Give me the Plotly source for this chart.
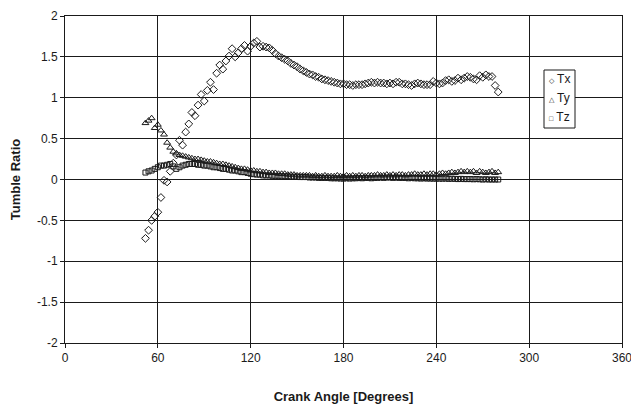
import plotly.graph_objects as go

crank_angle = [52, 54, 56, 58, 60, 62, 64, 66, 68, 70, 72, 74, 76, 78, 80, 82, 84, 86, 88, 90,
               92, 94, 96, 98, 100, 102, 104, 106, 108, 110, 112, 114, 116, 118, 120, 122, 124, 126, 128, 130,
               132, 134, 136, 138, 140, 142, 144, 146, 148, 150, 152, 154, 156, 158, 160, 162, 164, 166, 168, 170,
               172, 174, 176, 178, 180, 182, 184, 186, 188, 190, 192, 194, 196, 198, 200, 202, 204, 206, 208, 210,
               212, 214, 216, 218, 220, 222, 224, 226, 228, 230, 232, 234, 236, 238, 240, 242, 244, 246, 248, 250,
               252, 254, 256, 258, 260, 262, 264, 266, 268, 270, 272, 274, 276, 278, 280]

tx = [-0.72, -0.62, -0.50, -0.45, -0.40, -0.22, -0.01, -0.03, 0.10, 0.20, 0.30, 0.48, 0.42, 0.58, 0.68, 0.82, 0.78, 0.91, 1.04, 0.96,
      1.09, 1.19, 1.10, 1.30, 1.40, 1.35, 1.45, 1.51, 1.60, 1.50, 1.55, 1.60, 1.64, 1.57, 1.63, 1.67, 1.69, 1.62, 1.63, 1.62,
      1.61, 1.58, 1.54, 1.51, 1.49, 1.47, 1.45, 1.42, 1.40, 1.38, 1.35, 1.33, 1.31, 1.29, 1.28, 1.26, 1.25, 1.23, 1.22, 1.21,
      1.20, 1.19, 1.18, 1.17, 1.17, 1.16, 1.16, 1.15, 1.16, 1.16, 1.16, 1.17, 1.18, 1.19, 1.18, 1.19, 1.18, 1.18, 1.17, 1.18,
      1.17, 1.19, 1.19, 1.17, 1.17, 1.16, 1.15, 1.17, 1.18, 1.17, 1.16, 1.16, 1.16, 1.20, 1.18, 1.17, 1.18, 1.21, 1.22, 1.20,
      1.21, 1.24, 1.22, 1.24, 1.26, 1.25, 1.23, 1.22, 1.27, 1.25, 1.28, 1.26, 1.26, 1.15, 1.07]

ty = [0.69, 0.72, 0.75, 0.63, 0.67, 0.60, 0.55, 0.45, 0.39, 0.34, 0.32, 0.30, 0.29, 0.28, 0.27, 0.26, 0.25, 0.25, 0.24, 0.23,
      0.22, 0.22, 0.21, 0.20, 0.19, 0.19, 0.18, 0.17, 0.16, 0.15, 0.14, 0.13, 0.13, 0.12, 0.11, 0.11, 0.10, 0.10, 0.09, 0.09,
      0.08, 0.08, 0.08, 0.07, 0.07, 0.07, 0.06, 0.06, 0.06, 0.05, 0.05, 0.05, 0.05, 0.05, 0.04, 0.05, 0.04, 0.04, 0.05, 0.04,
      0.04, 0.04, 0.05, 0.04, 0.04, 0.05, 0.04, 0.05, 0.04, 0.05, 0.05, 0.04, 0.05, 0.05, 0.05, 0.06, 0.05, 0.05, 0.06, 0.05,
      0.06, 0.05, 0.06, 0.06, 0.05, 0.06, 0.06, 0.07, 0.06, 0.06, 0.07, 0.06, 0.07, 0.07, 0.06, 0.07, 0.08, 0.07, 0.08, 0.09,
      0.08, 0.09, 0.10, 0.09, 0.10, 0.09, 0.10, 0.08, 0.10, 0.09, 0.08, 0.09, 0.10, 0.08, 0.09]

tz = [0.085, 0.10, 0.11, 0.13, 0.15, 0.17, 0.17, 0.18, 0.19, 0.16, 0.13, 0.15, 0.17, 0.18, 0.19, 0.19, 0.19, 0.18, 0.18, 0.17,
      0.17, 0.16, 0.15, 0.15, 0.14, 0.13, 0.13, 0.12, 0.11, 0.11, 0.10, 0.09, 0.09, 0.08, 0.07, 0.065, 0.06, 0.06, 0.05, 0.05,
      0.05, 0.045, 0.045, 0.045, 0.04, 0.04, 0.04, 0.035, 0.035, 0.035, 0.03, 0.03, 0.03, 0.025, 0.025, 0.025, 0.02, 0.02, 0.02, 0.02,
      0.015, 0.015, 0.015, 0.012, 0.012, 0.015, 0.012, 0.015, 0.015, 0.02, 0.015, 0.02, 0.02, 0.015, 0.02, 0.02, 0.025, 0.02, 0.025, 0.025,
      0.02, 0.025, 0.02, 0.02, 0.02, 0.015, 0.02, 0.015, 0.015, 0.012, 0.015, 0.012, 0.012, 0.01, 0.012, 0.01, 0.01, 0.012, 0.008, 0.01,
      0.008, 0.005, 0.008, 0.005, 0.005, 0.005, 0.003, 0.005, 0.003, 0.0, 0.003, 0.0, 0.0, 0.0, 0.0]

series_names = ["Tx", "Ty", "Tz"]
x_ticks = [0, 60, 120, 180, 240, 300, 360]
y_ticks = [-2, -1.5, -1, -0.5, 0, 0.5, 1, 1.5, 2]

FONT = "Liberation Sans, Arial, sans-serif"
INK = "#1a1a1a"

# the page body adds an 8px offset; plot area targeted at page px x 65..622, y 16..343
ML, MT = 57, 8
PW, PH = 557, 327

fig = go.Figure()
fig.add_trace(go.Scatter(x=crank_angle, y=tx, mode="markers", name=series_names[0],
                         marker=dict(symbol="diamond-open", size=6, color=INK, line=dict(width=1))))
fig.add_trace(go.Scatter(x=crank_angle, y=ty, mode="markers", name=series_names[1],
                         marker=dict(symbol="triangle-up-open", size=6, color=INK, line=dict(width=1))))
fig.add_trace(go.Scatter(x=crank_angle, y=tz, mode="markers", name=series_names[2],
                         marker=dict(symbol="square-open", size=5, color=INK, line=dict(width=1))))

axis_common = dict(
    showgrid=True, gridcolor=INK, gridwidth=1,
    showline=True, linecolor=INK, linewidth=1, mirror=True,
    ticks="outside", ticklen=4, tickcolor=INK,
    zeroline=False, automargin=False, ticklabeloverflow="allow",
    tickfont=dict(family=FONT, size=12, color=INK),
)

fig.update_layout(
    width=639, height=414,
    margin=dict(l=ML, r=639 - ML - PW, t=MT, b=414 - MT - PH),
    paper_bgcolor="white", plot_bgcolor="white",
    showlegend=False,
    xaxis=dict(range=[0, 360], tickvals=x_ticks, ticktext=[str(v) for v in x_ticks],
               title=dict(text="<b>Crank Angle [Degrees]</b>", font=dict(family=FONT, size=13, color=INK), standoff=27),
               **axis_common),
    yaxis=dict(range=[-2, 2], tickvals=y_ticks, ticktext=[("%g" % v) for v in y_ticks],
               title=dict(text="<b>Tumble Ratio</b>", font=dict(family=FONT, size=13, color=INK), standoff=14),
               **axis_common),
)

# legend box (drawn manually to match the compact Excel-style legend), page px 544..575 x 70..128
def px_x(p):
    return (p - 8 - ML) / PW

def px_y(p):
    return 1 - (p - 8 - MT) / PH

fig.add_shape(type="rect", xref="paper", yref="paper",
              x0=px_x(544), x1=px_x(575), y0=px_y(128), y1=px_y(70),
              line=dict(color=INK, width=1), fillcolor="white", layer="above")
legend_symbols = ["\u25C7", "\u25B3", "\u25A1"]
legend_y = [79, 98, 117]
for sym, name, yp in zip(legend_symbols, series_names, legend_y):
    fig.add_annotation(xref="paper", yref="paper", x=px_x(547), y=px_y(yp),
                       xanchor="left", yanchor="middle", showarrow=False,
                       text="<span style='font-size:7px'>%s</span> %s" % (sym, name),
                       font=dict(family=FONT, size=12, color=INK))

fig.write_html("out.html")
